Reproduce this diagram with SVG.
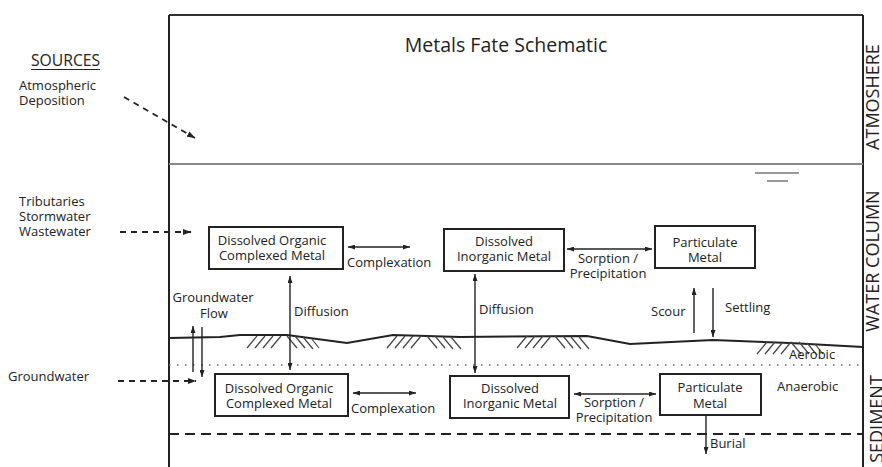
<svg xmlns="http://www.w3.org/2000/svg" width="882" height="467" viewBox="0 0 882 467">
<style>
.t{font-family:"Open Sans","DejaVu Sans",sans-serif;font-size:13px;fill:#222}
.lbl{font-family:"Open Sans","DejaVu Sans",sans-serif;font-size:18px;fill:#222}
.box{fill:#fff;stroke:#222;stroke-width:2}
.c{stroke:#222;stroke-width:1.4;fill:none}
.ds{stroke:#222;stroke-width:1.8;fill:none;stroke-dasharray:6 5}
.h{stroke:#444;stroke-width:1.2}
</style>
<defs>
<marker id="ah" viewBox="0 0 7 5" refX="7" refY="2.5" markerWidth="7" markerHeight="5" orient="auto-start-reverse" markerUnits="userSpaceOnUse"><path d="M0,0 L7,2.5 L0,5 z" fill="#222"/></marker>
<marker id="ahb" viewBox="0 0 8 6" refX="8" refY="3" markerWidth="8" markerHeight="6" orient="auto" markerUnits="userSpaceOnUse"><path d="M0,0 L8,3 L0,6 z" fill="#222"/></marker>
</defs>
<rect width="882" height="467" fill="#fff"/>

<g id="frame">
<line x1="169" y1="15" x2="863" y2="15" stroke="#333" stroke-width="2"/>
<line x1="169" y1="15" x2="169" y2="467" stroke="#222" stroke-width="2"/>
<line x1="863" y1="15" x2="863" y2="467" stroke="#222" stroke-width="2"/>
<line x1="169" y1="164" x2="863" y2="164" stroke="#888" stroke-width="2"/>
<line x1="755" y1="173" x2="799" y2="173" stroke="#777" stroke-width="1.5"/>
<line x1="767" y1="181" x2="788" y2="181" stroke="#777" stroke-width="1.5"/>
<line x1="169" y1="365" x2="863" y2="365" stroke="#666" stroke-width="1.3" stroke-dasharray="1.5 6.5"/>
<line x1="169" y1="434" x2="863" y2="434" stroke="#222" stroke-width="2" stroke-dasharray="10 6"/>
<path d="M169,338 L220,337 L240,335 L287,335 L347,343 L393,335 L460,337 L587,336 L630,344 L713,340 L790,343 L863,347" fill="none" stroke="#222" stroke-width="2"/>
</g>

<g id="hatching">
<path class="h" d="M247,348 L257,336 M255,348 L265,336 M263,348 L273,336 M271,348 L281,336 M287,336 L297,348 M295,336 L305,348 M303,337 L313,349 M311,338 L319,348"/>
<path class="h" d="M387,348 L397,336 M395,348 L405,336 M403,348 L413,336 M411,348 L421,336 M427,336 L437,348 M435,336 L445,348 M443,337 L453,349 M451,337 L461,349"/>
<path class="h" d="M517,348 L527,336 M525,348 L535,336 M533,348 L543,336 M541,348 L551,336 M555,336 L565,348 M563,336 L573,348 M571,337 L581,349 M579,337 L589,349"/>
<path class="h" d="M757,354 L767,342 M765,354 L775,342 M773,354 L783,342 M781,354 L791,342 M791,342 L801,354 M799,342 L809,354 M807,343 L817,355 M815,344 L823,354"/>
</g>

<g id="title"><text class="t" x="506" y="52" text-anchor="middle" style="font-size:19.5px">Metals Fate Schematic</text></g>

<g id="sources">
<text class="t" x="31" y="66" style="font-size:15.7px">SOURCES</text>
<line x1="31" y1="69.5" x2="100" y2="69.5" stroke="#222" stroke-width="1.2"/>
<text class="t" x="19" y="90">Atmospheric</text>
<text class="t" x="19" y="105">Deposition</text>
<text class="t" x="19" y="206">Tributaries</text>
<text class="t" x="19" y="221">Stormwater</text>
<text class="t" x="19" y="236">Wastewater</text>
<text class="t" x="8" y="381">Groundwater</text>
</g>

<g id="zone-labels">
<text class="lbl" transform="translate(879,97) rotate(-90)" text-anchor="middle">ATMOSHERE</text>
<text class="lbl" transform="translate(879,261) rotate(-90)" text-anchor="middle">WATER COLUMN</text>
<text class="lbl" transform="translate(883,419) rotate(-90)" text-anchor="middle">SEDIMENT</text>
</g>

<g id="box-doc-water"><rect class="box" x="209" y="227" width="134" height="42"/>
<text class="t" x="272" y="245" text-anchor="middle">Dissolved Organic</text>
<text class="t" x="272" y="260" text-anchor="middle">Complexed Metal</text></g>
<g id="box-dim-water"><rect class="box" x="444" y="229" width="120" height="42"/>
<text class="t" x="504" y="246" text-anchor="middle">Dissolved</text>
<text class="t" x="504" y="261" text-anchor="middle">Inorganic Metal</text></g>
<g id="box-pm-water"><rect class="box" x="655" y="226" width="100" height="42"/>
<text class="t" x="705" y="247" text-anchor="middle">Particulate</text>
<text class="t" x="705" y="262" text-anchor="middle">Metal</text></g>

<g id="box-doc-sed"><rect class="box" x="215" y="374" width="133" height="42"/>
<text class="t" x="279" y="393" text-anchor="middle">Dissolved Organic</text>
<text class="t" x="279" y="408" text-anchor="middle">Complexed Metal</text></g>
<g id="box-dim-sed"><rect class="box" x="450" y="376" width="119" height="42"/>
<text class="t" x="510" y="393" text-anchor="middle">Dissolved</text>
<text class="t" x="510" y="408" text-anchor="middle">Inorganic Metal</text></g>
<g id="box-pm-sed"><rect class="box" x="660" y="374" width="101" height="41"/>
<text class="t" x="710" y="392" text-anchor="middle">Particulate</text>
<text class="t" x="710" y="408" text-anchor="middle">Metal</text></g>

<g id="connectors">
<line class="ds" x1="124" y1="97" x2="195" y2="138" stroke-dasharray="5 5" stroke-width="2" marker-end="url(#ahb)"/>
<line class="ds" x1="120" y1="232" x2="191" y2="232" marker-end="url(#ahb)"/>
<line class="ds" x1="118" y1="381" x2="196" y2="381" stroke-dasharray="4 5" marker-end="url(#ahb)"/>
<line class="c" x1="348" y1="247" x2="410" y2="247" marker-start="url(#ah)" marker-end="url(#ah)"/>
<line class="c" x1="567" y1="249" x2="652" y2="249" marker-start="url(#ah)" marker-end="url(#ah)"/>
<line class="c" x1="353" y1="393" x2="416" y2="393" marker-start="url(#ah)" marker-end="url(#ah)"/>
<line class="c" x1="574" y1="394" x2="656" y2="394" marker-start="url(#ah)" marker-end="url(#ah)"/>
<line class="c" x1="290" y1="276" x2="290" y2="370" marker-start="url(#ah)" marker-end="url(#ah)"/>
<line class="c" x1="475" y1="274" x2="475" y2="373" marker-start="url(#ah)" marker-end="url(#ah)"/>
<line class="c" x1="193" y1="372" x2="193" y2="326" marker-end="url(#ah)"/>
<line class="c" x1="202" y1="327" x2="202" y2="377" marker-end="url(#ah)"/>
<line class="c" x1="694" y1="333" x2="694" y2="288" marker-end="url(#ah)"/>
<line class="c" x1="713" y1="288" x2="713" y2="337" marker-end="url(#ah)"/>
<line class="c" x1="706" y1="415" x2="706" y2="454" marker-end="url(#ah)"/>
</g>

<g id="connector-labels">
<text class="t" x="347" y="267">Complexation</text>
<text class="t" x="351" y="413">Complexation</text>
<text class="t" x="608" y="263" text-anchor="middle">Sorption /</text>
<text class="t" x="608" y="278" text-anchor="middle">Precipitation</text>
<text class="t" x="614" y="407" text-anchor="middle">Sorption /</text>
<text class="t" x="614" y="422" text-anchor="middle">Precipitation</text>
<text class="t" x="294" y="316">Diffusion</text>
<text class="t" x="479" y="314">Diffusion</text>
<text class="t" x="213" y="302" text-anchor="middle">Groundwater</text>
<text class="t" x="214" y="318" text-anchor="middle">Flow</text>
<text class="t" x="651" y="316">Scour</text>
<text class="t" x="725" y="312">Settling</text>
<text class="t" x="789" y="359">Aerobic</text>
<text class="t" x="777" y="391">Anaerobic</text>
<text class="t" x="710" y="448">Burial</text>
</g>
</svg>
